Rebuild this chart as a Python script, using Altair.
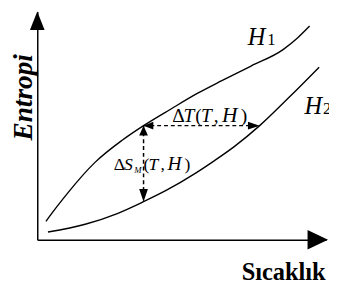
import altair as alt
import pandas as pd

# ---- values (arbitrary units: T = temperature, S = entropy) ----
h1_T = [3.0, 6.8, 10.8, 19.9, 29.4, 36.8, 46.3, 55.4, 63.9, 74.0, 85.1, 90.2, 94.3]
h1_S = [8.1, 14.5, 20.9, 33.8, 43.6, 50.0, 57.3, 64.1, 69.7, 76.1, 83.3, 88.5, 93.6]
h2_T = [3.7, 16.6, 27.7, 36.8, 44.6, 54.7, 61.5, 68.2, 77.0, 87.2, 97.6]
h2_S = [3.4, 6.8, 11.5, 16.7, 21.6, 29.1, 34.8, 40.8, 50.0, 62.4, 75.6]

dT_T = [36.8, 77.0]   # Delta T arrow (horizontal), at S = dT_S
dT_S = 50.0
dS_T = 36.8           # Delta S arrow (vertical), at T = dS_T
dS_S = [50.0, 16.7]

axis_T = [0, 100]
axis_S = [0, 100]
x_title = "Sıcaklık"
y_title = "Entropi"

FONT = "Liberation Serif, Times New Roman, Times, serif"

xs = alt.Scale(domain=axis_T, nice=False, zero=False)
ys = alt.Scale(domain=axis_S, nice=False, zero=False)
xax = alt.Axis(title=None, domain=True, domainColor="black", domainWidth=1.5,
               ticks=False, labels=False, grid=False)
yax = alt.Axis(title=None, domain=True, domainColor="black", domainWidth=1.5,
               ticks=False, labels=False, grid=False)


def XY(chart, **extra):
    return chart.encode(x=alt.X("T:Q", scale=xs, axis=xax),
                        y=alt.Y("S:Q", scale=ys, axis=yax), **extra)


curves = pd.DataFrame({
    "T": h1_T + h2_T,
    "S": h1_S + h2_S,
    "curve": ["H1"] * len(h1_T) + ["H2"] * len(h2_T),
})
curve_layer = XY(alt.Chart(curves).mark_line(color="black", strokeWidth=1.4,
                                              interpolate="monotone"),
                 detail="curve:N")

hdf = pd.DataFrame({"T": [dT_T[0]], "T2": [dT_T[1]], "S": [dT_S]})
h_rule = alt.Chart(hdf).mark_rule(color="black", strokeWidth=1.5, strokeDash=[4, 3]).encode(
    x=alt.X("T:Q", scale=xs, axis=xax), x2="T2:Q", y=alt.Y("S:Q", scale=ys, axis=yax))
vdf = pd.DataFrame({"T": [dS_T], "S": [dS_S[0]], "S2": [dS_S[1]]})
v_rule = alt.Chart(vdf).mark_rule(color="black", strokeWidth=1.5, strokeDash=[4, 3]).encode(
    x=alt.X("T:Q", scale=xs, axis=xax), y=alt.Y("S:Q", scale=ys, axis=yax), y2="S2:Q")


def head(T, S, path):
    df = pd.DataFrame({"T": [T], "S": [S]})
    return XY(alt.Chart(df).mark_point(shape=path, filled=True, size=100, color="black",
                                       opacity=1, strokeWidth=0))


heads = [
    head(dT_T[0], dT_S, "M0,0L2,-0.8L2,0.8Z"),
    head(dT_T[1], dT_S, "M0,0L-2.4,-0.8L-2.4,0.8Z"),
    head(dS_T, dS_S[0], "M0,0L-0.9,2L0.9,2Z"),
    head(dS_T, dS_S[1], "M0,0L-0.9,-2.6L0.9,-2.6Z"),
    head(axis_T[0], axis_S[1], "M0,0L-1.5,3.8L1.5,3.8Z"),
    head(axis_T[1], axis_S[0], "M0.4,0L-3.8,-2L-3.8,2Z"),
]


def txt(text, T, S, dx, dy, size, style="normal"):
    df = pd.DataFrame({"T": [T], "S": [S]})
    return XY(alt.Chart(df).mark_text(text=text, dx=dx, dy=dy, align="left",
                                      baseline="alphabetic", font=FONT, fontSize=size,
                                      fontStyle=style, color="black"))


texts = [
    # H1 / H2 labels, anchored to curve ends
    txt("H", h1_T[-1], h1_S[-1], -63.3, 19.7, 25, "italic"),
    txt("1", h1_T[-1], h1_S[-1], -43.5, 19.7, 17),
    txt("H", h2_T[-1], h2_S[-1], -15, 48, 25, "italic"),
    txt("2", h2_T[-1], h2_S[-1], 4, 48, 17),
    # Delta T (T, H)
    txt("Δ", dT_T[0], dT_S, 29.5, -4, 20),
    txt("T", dT_T[0], dT_S, 41, -4, 20, "italic"),
    txt("(", dT_T[0], dT_S, 53, -4, 20),
    txt("T", dT_T[0], dT_S, 59, -4, 20, "italic"),
    txt(",", dT_T[0], dT_S, 72, -4, 20),
    txt("H", dT_T[0], dT_S, 80.5, -4, 22, "italic"),
    txt(")", dT_T[0], dT_S, 99.5, -4, 20),
    # Delta S_M (T, H)
    txt("Δ", dS_T, dS_S[0], -30.5, 45.5, 18),
    txt("S", dS_T, dS_S[0], -20, 45.5, 18, "italic"),
    txt("M", dS_T, dS_S[0], -9.5, 48.5, 9, "italic"),
    txt("(", dS_T, dS_S[0], 0, 45.5, 18),
    txt("T", dS_T, dS_S[0], 5, 45.5, 18, "italic"),
    txt(",", dS_T, dS_S[0], 17.5, 45.5, 18),
    txt("H", dS_T, dS_S[0], 24.5, 45.5, 20, "italic"),
    txt(")", dS_T, dS_S[0], 42, 45.5, 18),
]

# axis titles (placed in plot-area pixels)
title_x = alt.Chart(pd.DataFrame({"t": [x_title]})).mark_text(
    align="center", baseline="alphabetic", font=FONT, fontSize=25, fontWeight="bold",
    color="black").encode(text="t:N", x=alt.value(252.5), y=alt.value(275))
title_y = alt.Chart(pd.DataFrame({"t": [y_title]})).mark_text(
    align="center", baseline="alphabetic", font=FONT, fontSize=28, fontWeight="bold",
    fontStyle="italic", angle=270, color="black").encode(
    text="t:N", x=alt.value(-5), y=alt.value(88))

chart = alt.layer(curve_layer, h_rule, v_rule, *heads, *texts, title_x, title_y).properties(
    width=296, height=234,
    padding={"left": 30, "top": 0, "right": 3, "bottom": 52},
    autosize=alt.AutoSizeParams(type="none"),
    background="white",
).configure_view(stroke=None)

chart.save("out.html", embed_options={"renderer": "svg", "actions": False})
